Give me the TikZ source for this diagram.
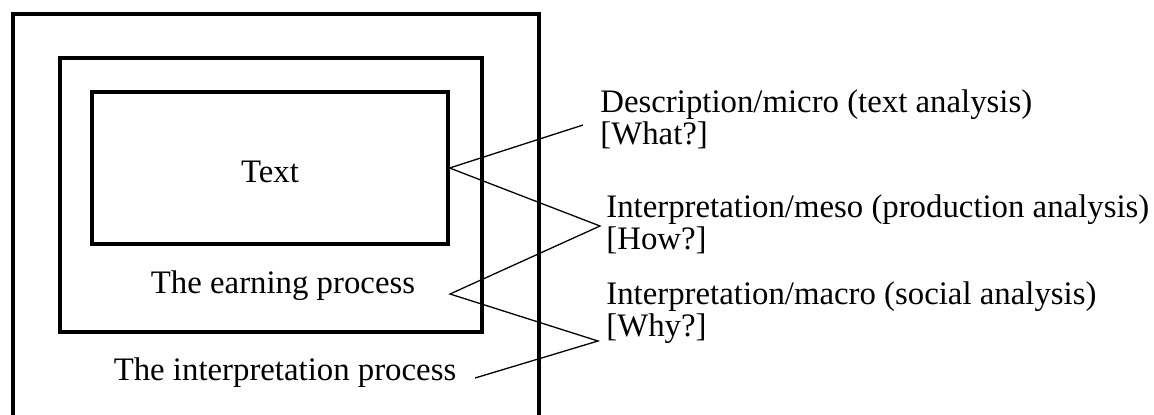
\documentclass[tikz,border=0pt]{standalone}
\usepackage{fontspec}
\setmainfont{Liberation Serif}
\usetikzlibrary{positioning}

\begin{document}
\begin{tikzpicture}[x=0.5pt, y=-0.5pt,
    box/.style={draw, line width=1.6pt},
    zig/.style={line width=0.65pt},
    lbl/.style={font=\fontsize{16.4}{16}\selectfont, inner sep=0pt, align=left}]
    \useasboundingbox (0,0) rectangle (1154,414);
    \clip (0,0) rectangle (1154,414);

    % nested boxes
    \draw[box] (13,440) -- (13,14) -- (539,14) -- (539,440);
    \node (mid) [box, minimum width=211pt, minimum height=137pt] at (271,195) {};
    \node (inner) [box, minimum width=178pt, minimum height=76pt] at (270,168) {};
    \node (text) [lbl] at (270,172) {Text};

    \node (earning) [lbl] at (283,286) {The earning process};
    \node (interp) [lbl] at (285,373) {The interpretation process};

    % levels of analysis
    \node (desc) [lbl, anchor=west] at (600,119) {Description/micro (text analysis)\\{}[What?]};
    \node (meso) [lbl, anchor=west] at (606,224) {Interpretation/meso (production analysis)\\{}[How?]};
    \node (macro) [lbl, anchor=west] at (606,313) {Interpretation/macro (social analysis)\\{}[Why?]};

    \coordinate (d-tip) at (583,125);
    \coordinate (m-tip) at (600,226);
    \coordinate (e-tip) at (450,294);
    \coordinate (w-tip) at (598,341);
    \coordinate (i-tip) at (475,378);

    \draw[zig] (d-tip) -- (inner.east) -- (m-tip) -- (e-tip) -- (w-tip) -- (i-tip);
\end{tikzpicture}
\end{document}
